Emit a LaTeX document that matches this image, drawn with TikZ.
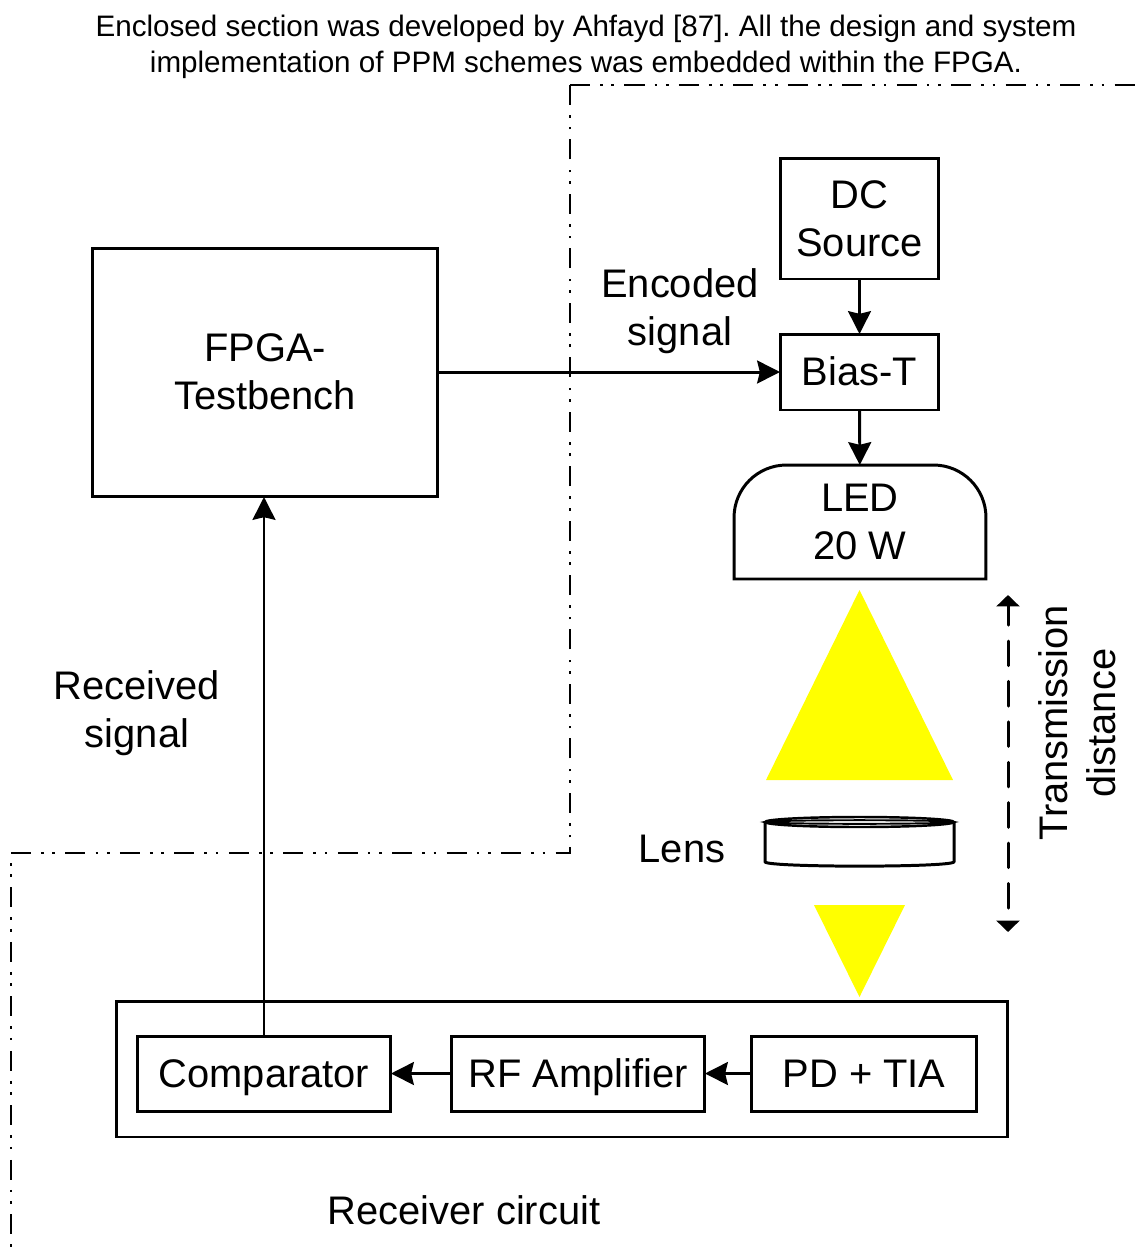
\documentclass[tikz,border=0pt]{standalone}
\usepackage{fontspec}
\setmainfont{Liberation Sans}
\usetikzlibrary{arrows.meta}
\definecolor{beamyellow}{RGB}{255,255,0}
\tikzset{
  blockbox/.style={draw,line width=1.7pt,inner sep=0pt,outer sep=0pt,align=center,font=\fontsize{22.7}{27.3}\selectfont},
  rowbox/.style={blockbox,minimum height=1.5cm,text height=20pt,text depth=4.6pt},
  plaintext/.style={inner sep=0pt,outer sep=0pt,align=center,font=\fontsize{22.7}{27.3}\selectfont},
  linkline/.style={draw,line width=1.7pt,-{Stealth[length=13pt,width=13pt,inset=1.5pt]}},
  enclosure/.style={draw,line width=1.5pt,dash pattern=on 11.4pt off 5.7pt on 1.5pt off 5pt on 1.5pt off 5.9pt}
}

\begin{document}
\begin{tikzpicture}[x=0.02cm,y=-0.02cm]
              \useasboundingbox (0,0) rectangle (1141,1255);
              %enclosed section
              \path[enclosure] (570,85)--(1141,85);
              \path[enclosure] (11,853)--(570,853)--(570,85);
              \path[enclosure,dash phase=11.4pt] (11,853)--(11,1255);
              \node[inner sep=0pt,align=center,font=\fontsize{16.85}{20.4}\selectfont\frenchspacing] (note) at (586,47) {Enclosed section was developed by Ahfayd [87]. All the design and system\\implementation of PPM schemes was embedded within the FPGA.};
              %transmitter
              \node[blockbox,minimum width=6.92cm,minimum height=4.98cm,text width=6cm] (fpga) at (265,372.5) {\raisebox{1.2pt}{FPGA-}\\\raisebox{1.2pt}{Testbench}};
              \node[blockbox,minimum width=3.18cm,minimum height=2.42cm] (dc) at (859.5,218.5) {DC\\Source};
              \node[blockbox,minimum width=3.18cm,minimum height=1.52cm] (biast) at (859.5,372) {\raisebox{0.6pt}{Bias-T}};
              \node[plaintext,minimum width=5.04cm,minimum height=2.28cm] (led) at (860,522) {LED\\20 W};
              \path[draw,line width=1.7pt] (led.south west) [rounded corners=1.05cm] --(led.north west)--(led.north east) [sharp corners] --(led.south east)--cycle;
              \path[linkline] (dc)--(biast);
              \path[linkline] (biast)--(led);
              \path[linkline] (fpga.east|-biast)--(biast);
              \node[plaintext] (encoded) at (680,311) {Encoded\\signal};
              %light path
              \path[fill=beamyellow] (859.5,590)--(953,780)--(766,780)--cycle;
              \path[fill=beamyellow] (814,905)--(905,905)--(859.5,997)--cycle;
              \path[draw,line width=1.7pt,line join=round] (765,822)--(765,862) .. controls (770,867.5) and (949,867.5) .. (954,862)--(954,822);
              \path[draw,line width=1.4pt] (859.5,822) ellipse (94.5 and 5);
              \path[draw,line width=1.1pt] (859.5,822) ellipse (94.5 and 1.8);
              \node[plaintext] (lens) at (682,849) {Lens};
              \coordinate (disttop) at (1008,595);
              \coordinate (distbottom) at (1008,932);
              \path[draw,line width=1.7pt,line cap=round,dash pattern=on 14pt off 9pt,dash phase=2.9pt,{Triangle[length=6.5pt,width=13pt]}-{Triangle[length=6.5pt,width=13pt]}] (disttop)--(distbottom);
              \node[plaintext,rotate=90] (distance) at (1077,723) {Transmission\\distance};
              %receiver
              \node[blockbox,minimum width=17.84cm,minimum height=2.72cm] (circuit) at (562,1069) {};
              \node[rowbox,minimum width=5.08cm] (comparator) at (264,1073.5) {Comparator};
              \node[rowbox,minimum width=5.08cm] (amp) at (578,1073.5) {RF Amplifier};
              \node[rowbox,minimum width=4.52cm] (pd) at (864,1073.5) {PD + TIA};
              \path[linkline] (pd)--(amp);
              \path[linkline] (amp)--(comparator);
              \path[linkline] (comparator)--(fpga.south-|comparator);
              \node[plaintext] (received) at (137,713) {Received\\signal};
              \node[plaintext] (rxlabel) at (464,1210) {Receiver circuit};
            \end{tikzpicture}
\end{document}
